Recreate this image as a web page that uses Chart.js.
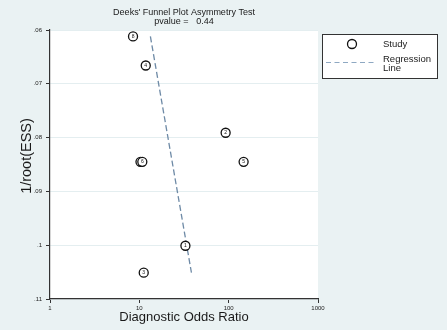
<!DOCTYPE html>
<html><head><meta charset="utf-8">
<script src="https://cdn.jsdelivr.net/npm/chart.js@4"></script>
<style>html,body{margin:0;padding:0;background:#eaf2f3;} canvas{display:block}</style>
</head><body>
<canvas id="c" width="447" height="330"></canvas>
<script>
const studyLabels = ["1","2","3","4","5","7","6","8"];
const diagnosticOddsRatio = [32.8, 92.5, 11.2, 11.8, 147, 10.3, 10.8, 8.5];
const invRootESS = [0.1001, 0.0791, 0.1051, 0.0666, 0.0845, 0.0845, 0.0845, 0.0612];
const regressionDOR = [13.3, 38.3];
const regressionInvRootESS = [0.0612, 0.1051];
const xTickValues = [1, 10, 100, 1000];
const xTickLabels = ["1", "10", "100", "1000"];
const yTickValues = [0.06, 0.07, 0.08, 0.09, 0.1, 0.11];
const yTickLabels = [".06", ".07", ".08", ".09", ".1", ".11"];
const chartTitle = ["Deeks' Funnel Plot Asymmetry Test", "pvalue =   0.44"];
const xTitle = "Diagnostic Odds Ratio";
const yTitle = "1/root(ESS)";
const legendStudy = "Study";
const legendRegression = ["Regression", "Line"];

const FONT = '"Liberation Sans", Arial, sans-serif';
const LINE_COLOR = '#6e8aa6';
const TEXT = '#1a1a1a';

const deco = {
  id: 'deco',
  beforeDraw(chart) {
    const { ctx, chartArea: a } = chart;
    ctx.save();
    ctx.fillStyle = '#eaf2f3';
    ctx.fillRect(0, 0, chart.width, chart.height);
    ctx.fillStyle = '#ffffff';
    ctx.fillRect(a.left, a.top, a.right - a.left, a.bottom - a.top);
    ctx.restore();
  },
  afterDatasetsDraw(chart) {
    const { ctx } = chart;
    const meta = chart.getDatasetMeta(1);
    ctx.save();
    meta.data.forEach((pt, i) => {
      ctx.beginPath();
      ctx.arc(pt.x, pt.y, 4.5, 0, Math.PI * 2);
      ctx.fillStyle = '#fff';
      ctx.fill();
      ctx.lineWidth = 1.3;
      ctx.strokeStyle = '#111';
      ctx.stroke();
      ctx.fillStyle = '#111';
      ctx.font = '5px ' + FONT;
      ctx.textAlign = 'center';
      ctx.textBaseline = 'middle';
      ctx.fillText(studyLabels[i], pt.x, pt.y + 0.3);
    });
    ctx.restore();
  },
  afterDraw(chart) {
    const { ctx, chartArea: a } = chart;
    const cx = (a.left + a.right) / 2;
    ctx.save();
    ctx.fillStyle = TEXT;
    ctx.textAlign = 'center';
    ctx.textBaseline = 'middle';
    ctx.font = '9px ' + FONT;
    ctx.fillText(chartTitle[0], cx, 13);
    ctx.fillText(chartTitle[1], cx, 22);
    ctx.font = '13px ' + FONT;
    ctx.fillText(xTitle, cx, 317);
    ctx.save();
    ctx.translate(27, 156);
    ctx.rotate(-Math.PI / 2);
    ctx.font = '14.5px ' + FONT;
    ctx.fillText(yTitle, 0, 0);
    ctx.restore();
    // legend
    ctx.fillStyle = '#fff';
    ctx.fillRect(322.5, 34.5, 115, 44);
    ctx.strokeStyle = '#333';
    ctx.lineWidth = 1;
    ctx.strokeRect(322.5, 34.5, 115, 44);
    ctx.beginPath();
    ctx.arc(352, 44, 4.5, 0, Math.PI * 2);
    ctx.lineWidth = 1.3;
    ctx.strokeStyle = '#111';
    ctx.stroke();
    ctx.beginPath();
    ctx.setLineDash([5, 3.5]);
    ctx.strokeStyle = '#8ea8c2';
    ctx.lineWidth = 1.2;
    ctx.moveTo(326, 62.5);
    ctx.lineTo(376, 62.5);
    ctx.stroke();
    ctx.setLineDash([]);
    ctx.fillStyle = TEXT;
    ctx.textAlign = 'left';
    ctx.font = '9.5px ' + FONT;
    ctx.fillText(legendStudy, 383, 44.5);
    ctx.fillText(legendRegression[0], 383, 59);
    ctx.fillText(legendRegression[1], 383, 68);
    ctx.restore();
  }
};

new Chart(document.getElementById('c'), {
  type: 'scatter',
  data: {
    datasets: [
      {
        type: 'line',
        data: regressionDOR.map((x, i) => ({ x, y: regressionInvRootESS[i] })),
        borderColor: LINE_COLOR,
        borderWidth: 1.3,
        borderDash: [6, 3],
        pointRadius: 0,
        fill: false,
        tension: 0
      },
      {
        data: diagnosticOddsRatio.map((x, i) => ({ x, y: invRootESS[i] })),
        pointRadius: 0,
        pointHoverRadius: 0,
        backgroundColor: '#fff',
        borderColor: '#111'
      }
    ]
  },
  options: {
    responsive: false,
    animation: false,
    devicePixelRatio: 1,
    layout: { padding: { top: 30, right: 129, left: 0, bottom: 0 } },
    plugins: { legend: { display: false }, tooltip: { enabled: false }, title: { display: false } },
    scales: {
      x: {
        type: 'logarithmic', min: 1, max: 1000,
        afterBuildTicks(s) { s.ticks = xTickValues.map(v => ({ value: v })); },
        afterFit(s) { s.height = 31; },
        ticks: {
          callback: (v, i) => xTickLabels[i],
          font: { size: 6, family: FONT }, color: TEXT, padding: 2,
          maxRotation: 0, autoSkip: false
        },
        grid: { display: true, drawOnChartArea: false, tickLength: 4, tickColor: '#333', color: '#333' },
        border: { color: '#333', width: 1.2 }
      },
      y: {
        type: 'linear', min: 0.06, max: 0.11, reverse: true,
        afterBuildTicks(s) { s.ticks = yTickValues.map(v => ({ value: v })); },
        afterFit(s) { s.width = 50; },
        ticks: {
          callback: (v, i) => yTickLabels[i],
          font: { size: 6, family: FONT }, color: TEXT, padding: 4, autoSkip: false
        },
        grid: { color: '#e4eef0', tickColor: '#333', tickLength: 4, drawOnChartArea: true },
        border: { color: '#333', width: 1.2 }
      }
    }
  },
  plugins: [deco]
});
</script>
</body></html>
